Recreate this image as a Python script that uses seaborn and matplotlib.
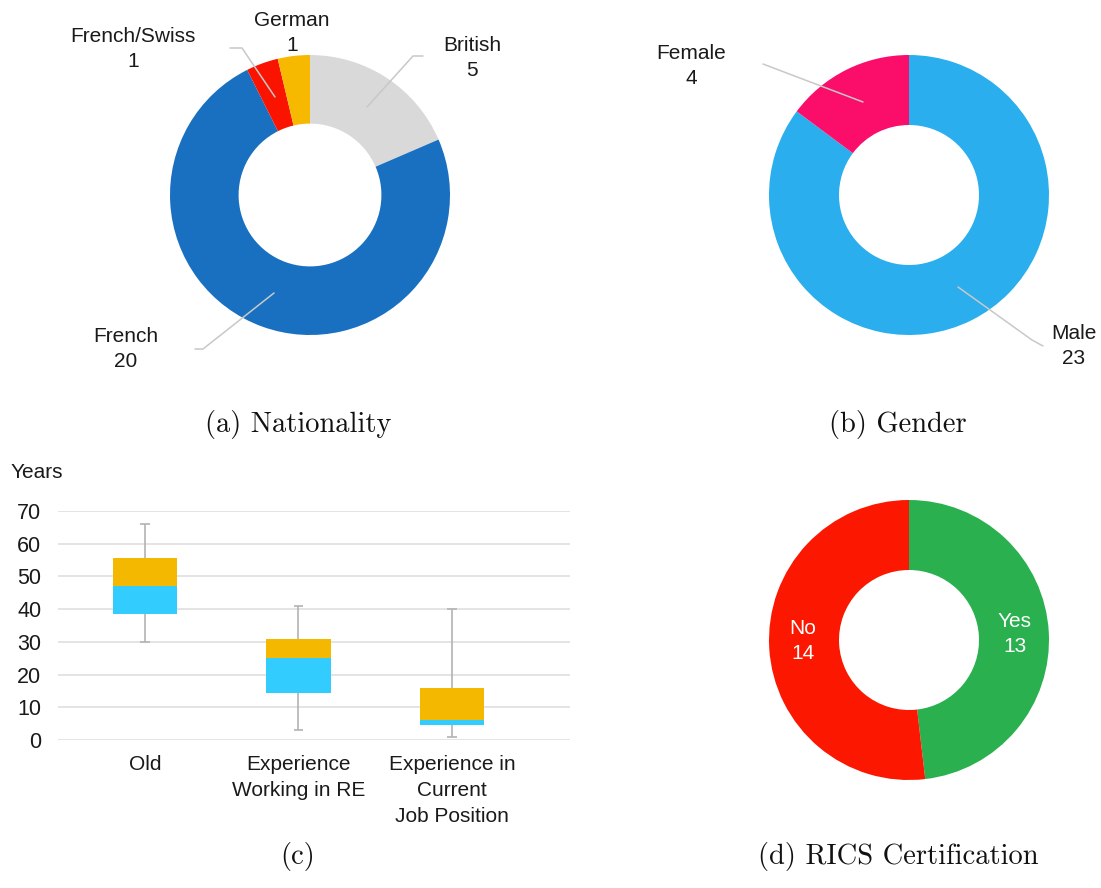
import matplotlib
matplotlib.use("Agg")
import matplotlib.pyplot as plt
from matplotlib.lines import Line2D
import seaborn as sns
import numpy as np

# ---------------- data ----------------
nat_labels = ["British", "French", "French/Swiss", "German"]
nat_values = [5, 20, 1, 1]
nat_colors = ["#d9d9d9", "#1a70c0", "#fa1400", "#f7b900"]

gender_labels = ["Male", "Female"]
gender_values = [23, 4]
gender_colors = ["#2aaeee", "#fb0d6a"]

rics_labels = ["Yes", "No"]
rics_values = [13, 14]
rics_colors = ["#2bb04f", "#fb1700"]

box_cats = ["Old", "Experience\nWorking in RE", "Experience in\nCurrent\nJob Position"]
box_low = [30, 3, 1]
box_q1 = [38.5, 14.5, 4.5]
box_med = [47, 25, 6]
box_q3 = [55.5, 31, 16]
box_high = [66, 41, 40]
y_ticks = [0, 10, 20, 30, 40, 50, 60, 70]

# ---------------- setup ----------------
sns.set_theme(style="white")
plt.rcParams["font.family"] = ["Liberation Sans", "DejaVu Sans"]

W, H = 1101, 888
fig = plt.figure(figsize=(W / 100, H / 100), dpi=100)
fig.patch.set_facecolor("white")

def fx(x):
    return x / W

def fy(y):
    return 1 - y / H

LBL = 15
LINE_C = "#c8c8c8"

def donut(cx, cy, r, values, colors, width):
    ax = fig.add_axes([fx(cx - r), fy(cy + r), 2 * r / W, 2 * r / H])
    ax.pie(values, colors=colors, startangle=90, counterclock=False,
           wedgeprops=dict(width=width, linewidth=0))
    ax.set_xlim(-1, 1)
    ax.set_ylim(-1, 1)
    ax.set_aspect("equal")
    ax.axis("off")
    return ax

def ftext(x, y, s, **kw):
    fig.text(fx(x), fy(y), s, ha="center", va="center", fontsize=kw.pop("fontsize", LBL),
             color=kw.pop("color", "#1a1a1a"), linespacing=1.4, **kw)

def fline(pts):
    xs = [fx(p[0]) for p in pts]
    ys = [fy(p[1]) for p in pts]
    fig.add_artist(Line2D(xs, ys, transform=fig.transFigure, color=LINE_C, lw=1.1))

# ---------------- (a) Nationality ----------------
donut(310, 195, 140, nat_values, nat_colors, 0.49)
ftext(133, 49, f"{nat_labels[2]}\n{nat_values[2]}")
ftext(292, 33, f"{nat_labels[3]}\n{nat_values[3]}")
ftext(472, 58, f"{nat_labels[0]}\n{nat_values[0]}")
ftext(126, 349, f"{nat_labels[1]}\n{nat_values[1]}")
fline([(230, 48), (242, 48), (275, 97)])
fline([(423, 56), (413, 56), (367, 107)])
fline([(195, 349), (203, 349), (274, 293)])

# ---------------- (b) Gender ----------------
donut(909, 195, 140, gender_values, gender_colors, 0.5)
ftext(691, 66, f"{gender_labels[1]}\n{gender_values[1]}")
ftext(1074, 346, f"{gender_labels[0]}\n{gender_values[0]}")
fline([(763, 64), (863, 102)])
fline([(1043, 346), (1032, 340), (958, 287)])

# ---------------- (d) RICS ----------------
donut(909, 640, 140, rics_values, rics_colors, 0.5)
ftext(803, 641, f"{rics_labels[1]}\n{rics_values[1]}", color="white", fontsize=15)
ftext(1015, 634, f"{rics_labels[0]}\n{rics_values[0]}", color="white", fontsize=15)

# ---------------- (c) box chart ----------------
ax = fig.add_axes([fx(58), fy(740), 512 / W, 229 / H])
blue_h = [m - q for m, q in zip(box_med, box_q1)]
gold_h = [q - m for q, m in zip(box_q3, box_med)]
sns.barplot(x=box_cats, y=blue_h, bottom=box_q1, color="#33ccff", saturation=1,
            width=0.42, errorbar=None, linewidth=0, ax=ax, zorder=3)
sns.barplot(x=box_cats, y=gold_h, bottom=box_med, color="#f5b800", saturation=1,
            width=0.42, errorbar=None, linewidth=0, ax=ax, zorder=3)
xs = np.arange(len(box_cats))
cap = 0.03
ax.vlines(xs, box_q3, box_high, color="#b3b3b3", lw=1.2, zorder=2)
ax.vlines(xs, box_low, box_q1, color="#b3b3b3", lw=1.2, zorder=2)
ax.hlines(box_high, xs - cap, xs + cap, color="#b3b3b3", lw=1.2, zorder=2)
ax.hlines(box_low, xs - cap, xs + cap, color="#b3b3b3", lw=1.2, zorder=2)
ax.set_xlim(-0.567, 2.769)
ax.set_ylim(0, 70)
ax.set_yticks(y_ticks)
ax.yaxis.grid(True, color="#dcdcdc", lw=1.1, zorder=0)
ax.set_axisbelow(True)
for s in ax.spines.values():
    s.set_visible(False)
ax.tick_params(axis="y", length=0, pad=12, labelsize=15.5, labelcolor="#1a1a1a")
ax.tick_params(axis="x", length=0, pad=11, labelsize=15, labelcolor="#1a1a1a")
for t in ax.get_xticklabels():
    t.set_linespacing(1.45)
    t.set_va("top")
ax.set_xlabel("")
ax.set_ylabel("")
fig.text(fx(11), fy(472), "Years", ha="left", va="center", fontsize=15, color="#1a1a1a")

# ---------------- captions ----------------
cap_kw = dict(ha="center", va="center", fontsize=20.5, family=["cmr10", "DejaVu Serif"], color="#111111")
fig.text(fx(298), fy(424), "(a) Nationality", **cap_kw)
fig.text(fx(898), fy(424), "(b) Gender", **cap_kw)
fig.text(fx(298), fy(856), "(c)", **cap_kw)
fig.text(fx(898), fy(856), "(d) RICS Certification", **cap_kw)

fig.savefig("out.png", dpi=100, facecolor="white")
